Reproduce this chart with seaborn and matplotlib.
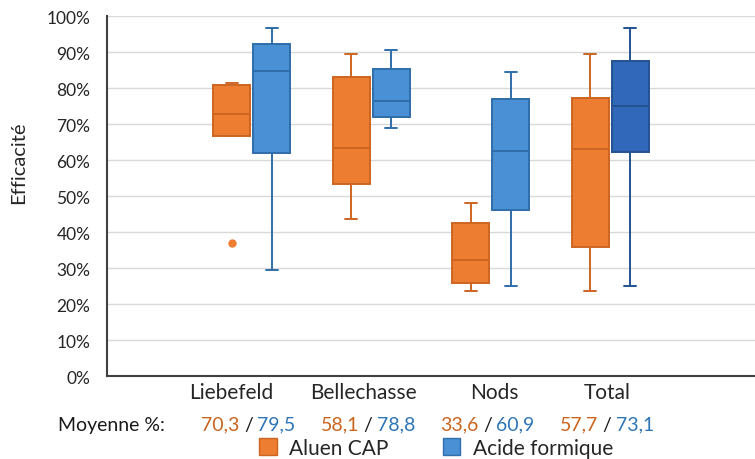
import pandas as pd
import matplotlib
matplotlib.use("Agg")
import matplotlib.pyplot as plt
import seaborn as sns
from matplotlib.patches import Patch
from matplotlib.ticker import PercentFormatter

# five-number summaries (min, Q1, median, Q3, max), in %
categories = ["Liebefeld", "Bellechasse", "Nods", "Total"]
aluen_cap = [[37.1, 66.7, 72.8, 80.8, 81.4],
             [43.7, 53.4, 63.4, 83.1, 89.4],
             [23.8, 26.0, 32.3, 42.6, 48.1],
             [23.8, 36.0, 63.1, 77.4, 89.4]]
acide_formique = [[29.4, 61.9, 84.8, 92.4, 96.7],
                  [68.9, 71.9, 76.6, 85.4, 90.7],
                  [25.2, 46.3, 62.5, 76.9, 84.5],
                  [25.2, 62.4, 75.2, 87.7, 96.7]]
moyenne_aluen = ["70,3", "58,1", "33,6", "57,7"]
moyenne_acide = ["79,5", "78,8", "60,9", "73,1"]
series = ["Aluen CAP", "Acide formique"]

rows = []
for name, vals in zip(series, [aluen_cap, acide_formique]):
    for cat, v in zip(categories, vals):
        for x in v:
            rows.append({"site": cat, "serie": name, "eff": x})
df = pd.DataFrame(rows)

fill = {"Aluen CAP": "#ED7D31", "Acide formique": "#4A90D4"}
edge = {"Aluen CAP": "#CD6522", "Acide formique": "#2F6EAA"}
txt_orange = "#C9651F"
txt_blue = "#2E75B6"

sns.set_style("white")
plt.rcParams["font.family"] = ["Lato", "DejaVu Sans"]

fig = plt.figure(figsize=(7.55, 4.6), dpi=100)
ax = fig.add_axes([107 / 755, 1 - 377.3 / 460, 648 / 755, 360 / 460])

sns.boxplot(data=df, x="site", y="eff", hue="serie", order=categories,
            hue_order=series, palette=fill, saturation=1, width=0.67,
            gap=0.075, whis=1.5, linewidth=1.4, legend=False, ax=ax,
            capwidths=0.1, flierprops=dict(marker="o", markersize=5))

# recolour per series: left box of a group is Aluen CAP, right is Acide formique
def serie_of(xc):
    return series[0] if xc - round(xc) < 0 else series[1]

for ln in ax.lines:
    xd = ln.get_xdata()
    if len(xd) == 0:
        continue
    xc = float(sum(xd)) / len(xd)
    n = serie_of(xc)
    ln.set_color(edge[n])
    ln.set_markerfacecolor(fill[n])
    ln.set_markeredgecolor(fill[n])
    if n == series[1] and xc > 3:
        ln.set_color("#23528F")

inv = ax.transData.inverted()
for p in ax.patches:
    ext = p.get_window_extent()
    xc = inv.transform(((ext.x0 + ext.x1) / 2, 0))[0]
    n = serie_of(xc)
    p.set_edgecolor(edge[n])
    if n == series[1] and xc > 3:
        # the Total / Acide formique box is drawn darker in the original
        p.set_facecolor("#3168B9")
        p.set_edgecolor("#23528F")

ax.set_ylim(0, 100)
ax.set_yticks(range(0, 101, 10))
ax.yaxis.set_major_formatter(PercentFormatter(100, decimals=0))
ax.set_xlim(-1.213, 4.21)
label_shift = [-0.176, -0.07, 0.03, -0.025]
ax.set_xticks([i + s for i, s in enumerate(label_shift)])
ax.set_xticklabels(categories)
ax.tick_params(axis="x", length=0, pad=4, labelsize=15)
ax.tick_params(axis="y", length=0, pad=12, labelsize=12.5)
ax.set_xlabel("")
ax.set_ylabel("Efficacité", fontsize=14.5)
ax.yaxis.set_label_coords(-0.123, 0.595)

ax.grid(axis="y", color="#D9D9D9", linewidth=1)
ax.set_axisbelow(True)
for s in ["top", "right"]:
    ax.spines[s].set_visible(False)
for s in ["left", "bottom"]:
    ax.spines[s].set_color("#404040")
    ax.spines[s].set_linewidth(1.5)

# row of means below the axis
yrow = -0.1325
fs = 14
ax.annotate("Moyenne %:", xy=(-0.0756, yrow), xycoords="axes fraction",
            ha="left", va="center", fontsize=fs, color="#1a1a1a")
for i in range(len(categories)):
    ax.annotate("/", xy=(i - 0.03, yrow), xycoords=("data", "axes fraction"),
                ha="center", va="center", fontsize=fs, color="#1a1a1a")
    ax.annotate(moyenne_aluen[i], xy=(i - 0.03, yrow), xycoords=("data", "axes fraction"),
                xytext=(-6.5, 0), textcoords="offset points",
                ha="right", va="center", fontsize=fs, color=txt_orange)
    ax.annotate(moyenne_acide[i], xy=(i - 0.03, yrow), xycoords=("data", "axes fraction"),
                xytext=(6.5, 0), textcoords="offset points",
                ha="left", va="center", fontsize=fs, color=txt_blue)

handles = [Patch(facecolor=fill[n], edgecolor=edge[n], label=n) for n in series]
fig.legend(handles=handles, loc="upper center", bbox_to_anchor=(436 / 755, 1 - 439 / 460),
           ncol=2, frameon=False, fontsize=15, handlelength=0.85, handleheight=0.85,
           handletextpad=0.6, columnspacing=2.6, borderaxespad=0, borderpad=0)

fig.savefig("out.png", dpi=100)
